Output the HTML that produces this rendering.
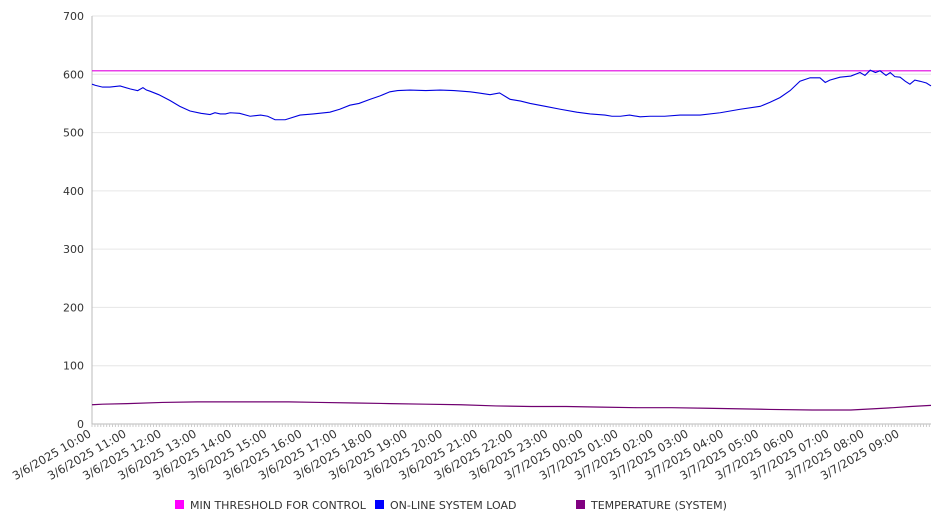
<!DOCTYPE html>
<html><head><meta charset="utf-8"><style>
body{margin:0;background:#fff;width:946px;height:526px;overflow:hidden;font-family:"DejaVu Sans","Liberation Sans",sans-serif}
svg text{font-family:"DejaVu Sans","Liberation Sans",sans-serif;font-size:11px;fill:#333}
</style></head><body>
<svg id="chart" width="946" height="526" xmlns="http://www.w3.org/2000/svg">
<g id="grid"></g>
<g id="axes"></g>
<g id="series"></g>
<g id="legend">
<rect x="175" y="500" width="9" height="9" fill="#ff00ff"/>
<text x="190" y="509">MIN THRESHOLD FOR CONTROL</text>
<rect x="375" y="500" width="9" height="9" fill="#0000ff"/>
<text x="390" y="509">ON-LINE SYSTEM LOAD</text>
<rect x="576" y="500" width="9" height="9" fill="#800080"/>
<text x="591" y="509">TEMPERATURE (SYSTEM)</text>
</g>
</svg>
<script>
const yTicks=[0,100,200,300,400,500,600,700];
const xLabels=["3/6/2025 10:00","3/6/2025 11:00","3/6/2025 12:00","3/6/2025 13:00","3/6/2025 14:00","3/6/2025 15:00","3/6/2025 16:00","3/6/2025 17:00","3/6/2025 18:00","3/6/2025 19:00","3/6/2025 20:00","3/6/2025 21:00","3/6/2025 22:00","3/6/2025 23:00","3/7/2025 00:00","3/7/2025 01:00","3/7/2025 02:00","3/7/2025 03:00","3/7/2025 04:00","3/7/2025 05:00","3/7/2025 06:00","3/7/2025 07:00","3/7/2025 08:00","3/7/2025 09:00"];
const threshold=606;
const loadHours=[0,0.1,0.3,0.51,0.8,1.08,1.3,1.45,1.55,1.65,1.9,2.22,2.5,2.79,3.1,3.36,3.5,3.65,3.8,3.93,4.2,4.5,4.8,5.0,5.21,5.5,5.92,6.3,6.77,7.05,7.34,7.6,7.91,8.2,8.48,8.7,9.05,9.5,9.91,10.3,10.76,11.0,11.33,11.6,11.9,12.2,12.47,12.9,13.33,13.8,14.18,14.6,14.8,15.04,15.3,15.6,15.88,16.3,16.74,17.31,17.88,18.45,19.02,19.3,19.58,19.87,20.15,20.44,20.72,20.87,21.0,21.29,21.6,21.86,22.0,22.15,22.3,22.43,22.6,22.72,22.85,23.0,23.15,23.28,23.42,23.57,23.75,23.88];
const loadVals=[583,581,578,578,580,575,572,577,573,571,565,555,545,537,533,531,534,532,532,534,533,528,530,528,522,522,530,532,535,540,547,550,557,563,570,572,573,572,573,572,570,568,565,568,557,554,550,545,540,535,532,530,528,528,530,527,528,528,530,530,534,540,545,552,560,572,588,594,594,586,590,595,597,603,598,607,603,606,598,603,596,595,588,583,590,588,585,580];
const tempHours=[0,0.3,1,2,3,4,5,5.6,6.5,7.5,8.5,9.5,10.5,11.5,12.5,13.5,14.5,15.5,16.5,17.5,18.5,19.3,20.5,21.6,22.2,22.8,23.3,23.88];
const tempVals=[33,34,35,37,38,38,38,38,37,36,35,34,33,31,30,30,29,28,28,27,26,25,24,24,26,28,30,32];
const NS="http://www.w3.org/2000/svg";
const X0=92,X1=931,Y0=424,Y1=16,HMAX=23.88;
const xs=h=>X0+(X1-X0)*h/HMAX;
const ys=v=>Y0-(Y0-Y1)*v/700;
function mk(tag,attrs,parent){const e=document.createElementNS(NS,tag);for(const k in attrs)e.setAttribute(k,attrs[k]);parent.appendChild(e);return e;}
const grid=document.getElementById('grid'),axes=document.getElementById('axes'),series=document.getElementById('series');
yTicks.forEach(v=>{
  const l=mk('line',{x1:X0,x2:X1,y1:ys(v),y2:ys(v),stroke:v===0?'#bbb':'#e6e6e6','stroke-width':1},grid);
  
  
  const t=mk('text',{x:84,y:ys(v)+4,'text-anchor':'end'},axes);
  t.textContent=v;
  
  
});
const ya=mk('line',{x1:X0,x2:X0,y1:Y1,y2:Y0,stroke:'#bbb'},axes);


for(let m=0;m<=HMAX*12;m++){
  const x=xs(m/12);
  const tk=mk('line',{x1:x,x2:x,y1:Y0,y2:Y0+3,stroke:'#ccc'},axes);
  
  
}
xLabels.forEach((s,i)=>{
  const x=xs(i);
  const t=mk('text',{x:x,y:Y0+12,'text-anchor':'end',style:'font-size:11.5px',transform:`rotate(-30 ${x} ${Y0+12})`},axes);
  t.textContent=s;
  
  
});
const th=mk('line',{x1:X0,x2:X1,y1:ys(threshold),y2:ys(threshold),stroke:'#e000e0','stroke-width':1.2},series);


const lp=mk('polyline',{points:loadHours.map((h,i)=>xs(h)+','+ys(loadVals[i])).join(' '),fill:'none',stroke:'#0000e0','stroke-width':1.1},series);


const tp=mk('polyline',{points:tempHours.map((h,i)=>xs(h)+','+ys(tempVals[i])).join(' '),fill:'none',stroke:'#700070','stroke-width':1.2},series);


</script>
</body></html>
